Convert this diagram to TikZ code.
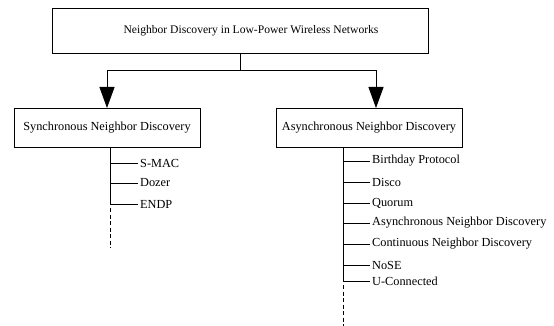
\documentclass[tikz,border=0pt]{standalone}
\usepackage{fontspec}
\setmainfont{Liberation Serif}
\usetikzlibrary{arrows.meta}

\begin{document}
\begin{tikzpicture}[x=1pt, y=-1pt, every node/.style={font=\fontsize{12.3}{14}\selectfont}]
  \useasboundingbox (0,0) rectangle (554,326);
  \tikzset{
    box/.style={draw, line width=0.8pt, inner sep=0pt},
    item/.style={anchor=west, inner sep=2pt},
    tip/.style={-{Triangle[length=21pt,width=15pt]}},
    more/.style={line width=0.8pt, dash pattern=on 4pt off 2.5pt}
  }

  % Root
  \node[box, minimum width=376, minimum height=45] (root) at (240,30.5) {};
  \node[font=\fontsize{11.6}{14}\selectfont] (rootText) at (251,31) {Neighbor Discovery in Low-Power Wireless Networks};

  % Two families
  \node[box, minimum width=186, minimum height=39] (syn) at (107,127.5) {Synchronous Neighbor Discovery};
  \node[box, minimum width=186, minimum height=39] (asyn) at (369,127.5) {Asynchronous Neighbor Discovery};

  % Split with arrows
  \coordinate (split) at (240,71);
  \coordinate (synIn) at (107,108);
  \coordinate (asynIn) at (376,108);
  \draw[line width=1pt] (root.south) -- (split);
  \draw[line width=1pt, tip] (split) -| (synIn);
  \draw[line width=1pt, tip] (split) -| (asynIn);

  % Synchronous protocols
  \coordinate (sTop) at (110,147);
  \coordinate (sEnd) at (110,204);
  \coordinate (sDash) at (110,248);
  \draw[line width=1pt] (sTop) -- (sEnd);
  \draw[more] (sEnd) ++(0,4) -- (sDash);
  \foreach \name/\y [count=\i] in {S-MAC/163, Dozer/183, ENDP/204} {
    \node[item] (S\i) at (138,\y) {\name};
    \coordinate (sj\i) at (110,\y);
    \draw[line width=0.8pt] (sj\i) -- (S\i.west);
  }

  % Asynchronous protocols
  \coordinate (aTop) at (343,147);
  \coordinate (aEnd) at (343,281);
  \coordinate (aDash) at (343,326);
  \draw[line width=1pt] (aTop) -- (aEnd);
  \draw[more] (aEnd) ++(0,4) -- (aDash);
  \foreach \name/\y [count=\i] in {Birthday Protocol/161, Disco/182, Quorum/203,
      Asynchronous Neighbor Discovery/223, Continuous Neighbor Discovery/244,
      NoSE/265, U-Connected/281} {
    \node[item] (A\i) at (370,\y) {\name};
    \coordinate (aj\i) at (343,\y);
    \draw[line width=0.8pt] (aj\i) -- (A\i.west);
  }
\end{tikzpicture}
\end{document}
